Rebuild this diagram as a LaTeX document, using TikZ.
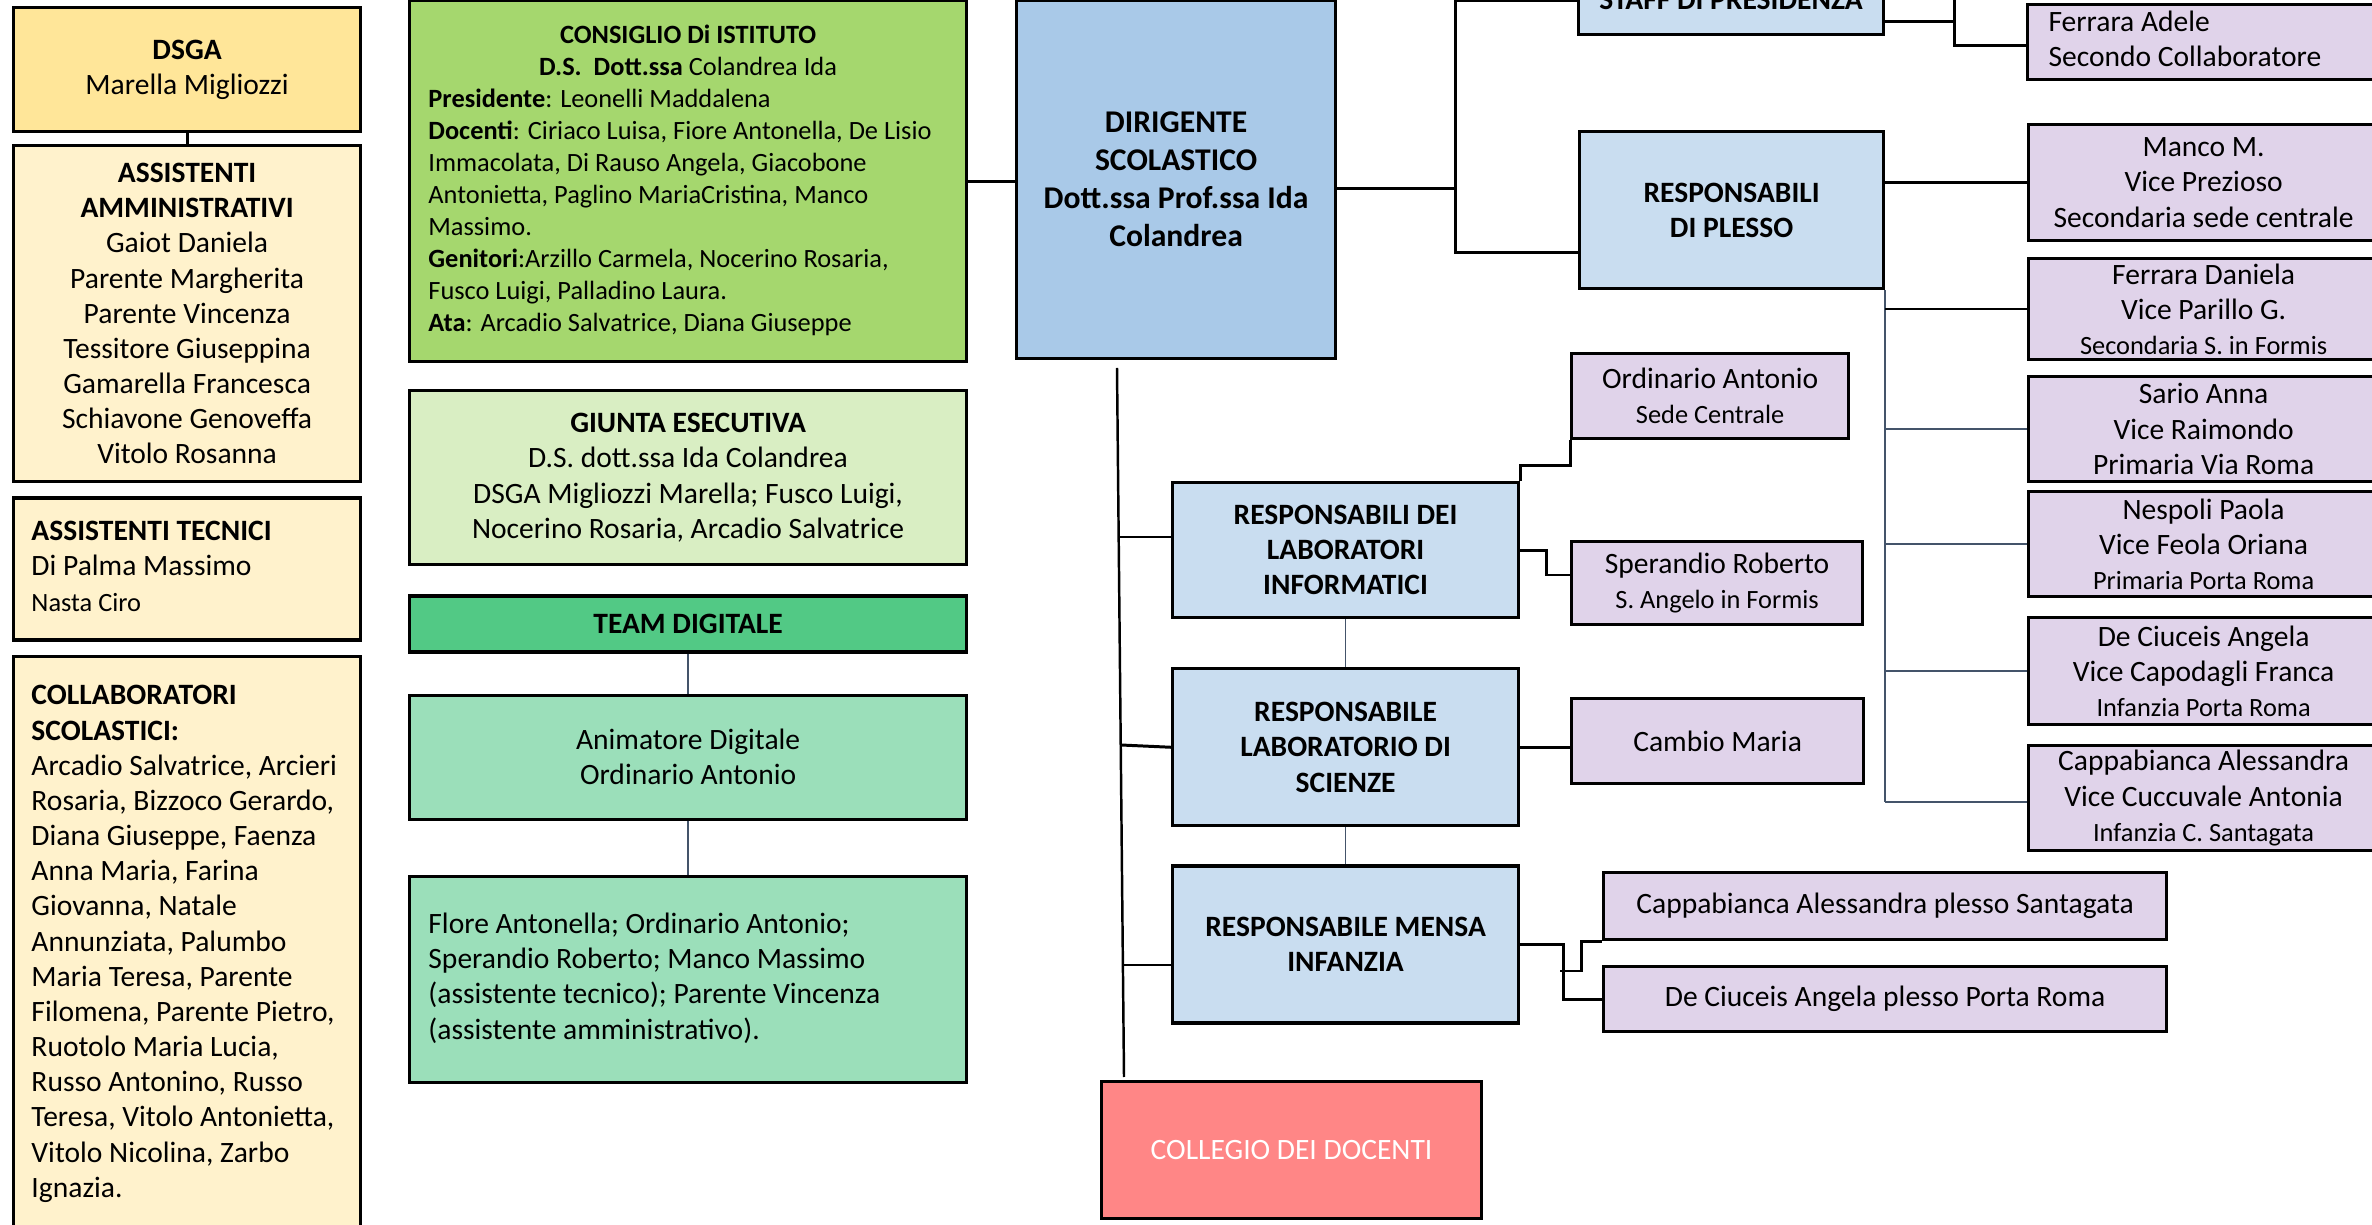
\documentclass[tikz,border=0pt]{standalone}
\usepackage{fontspec}
\setmainfont{Carlito}
\usetikzlibrary{positioning}

\definecolor{dsgagold}{HTML}{FFE699}
\definecolor{atacream}{HTML}{FFF2CC}
\definecolor{cdigreen}{HTML}{A5D76E}
\definecolor{giuntagreen}{HTML}{D9EEC3}
\definecolor{teamgreen}{HTML}{52C985}
\definecolor{mintgreen}{HTML}{9BDFBA}
\definecolor{dirblue}{HTML}{A9C9E8}
\definecolor{paleblue}{HTML}{C9DDF0}
\definecolor{lilac}{HTML}{E0D3EA}
\definecolor{salmon}{HTML}{FF8686}
\definecolor{slateline}{HTML}{44546A}

\newcommand{\piccolo}{\fontsize{7.5}{10}\selectfont}
% testo allineato a sinistra in una colonna larga #1
\newcommand{\colonna}[2]{\makebox[#1][l]{\begin{tabular}{@{}l@{}}#2\end{tabular}}}

\tikzset{
  org/.style={draw, line width=0.9pt, inner sep=0pt, align=center, anchor=north west},
  dims/.style 2 args={minimum width=#1*0.01cm, minimum height=#2*0.01cm},
  heading/.style={font=\fontsize{8.4}{10}\selectfont\bfseries},
  link/.style={line width=0.85pt},
  fine/.style={draw=slateline, line width=0.45pt},
}

\begin{document}
\begin{tikzpicture}[x=0.01cm, y=-0.01cm, font=\fontsize{8.4}{10}\selectfont]
\useasboundingbox (0,0) rectangle (2372,1225);
\clip (0,0) rectangle (2372,1225);

% personale ATA
\node[org, dims={347}{124}, fill=dsgagold] (dsga) at (12,6) {\textbf{DSGA}\\Marella Migliozzi};
\node[org, dims={347}{336}, fill=atacream, below=0.11cm of dsga] (amm) {\textbf{ASSISTENTI}\\\textbf{AMMINISTRATIVI}\\Gaiot Daniela\\Parente Margherita\\Parente Vincenza\\Tessitore Giuseppina\\Gamarella Francesca\\Schiavone Genoveffa\\Vitolo Rosanna};
\node[org, dims={347}{142}, fill=atacream, below=0.13cm of amm] (tec) {\colonna{3.11cm}{\textbf{ASSISTENTI TECNICI}\\Di Palma Massimo\\{\piccolo Nasta Ciro}}};
\node[org, dims={347}{576}, fill=atacream, below=0.13cm of tec] (coll) {\colonna{3.11cm}{\textbf{COLLABORATORI}\\\textbf{SCOLASTICI:}\\Arcadio Salvatrice, Arcieri\\Rosaria, Bizzoco Gerardo,\\Diana Giuseppe, Faenza\\Anna Maria, Farina\\Giovanna, Natale\\Annunziata, Palumbo\\Maria Teresa, Parente\\Filomena, Parente Pietro,\\Ruotolo Maria Lucia,\\Russo Antonino, Russo\\Teresa, Vitolo Antonietta,\\Vitolo Nicolina, Zarbo\\Ignazia.}};

% organi collegiali
\node[org, dims={557}{361}, fill=cdigreen, font=\fontsize{7.5}{9.1}\selectfont] (cdi) at (408,-1) {\colonna{5.19cm}{\makebox[5.19cm]{\textbf{CONSIGLIO Di ISTITUTO}}\\\makebox[5.19cm]{\textbf{D.S.\ \ Dott.ssa} Colandrea Ida}\\\textbf{Presidente}: Leonelli Maddalena\\\textbf{Docenti}: Ciriaco Luisa, Fiore Antonella, De Lisio\\Immacolata, Di Rauso Angela, Giacobone\\Antonietta, Paglino MariaCristina, Manco\\Massimo.\\\textbf{Genitori}:Arzillo Carmela, Nocerino Rosaria,\\Fusco Luigi, Palladino Laura.\\\textbf{Ata}: Arcadio Salvatrice, Diana Giuseppe}};
\node[org, dims={557}{174}, fill=giuntagreen, below=0.26cm of cdi] (giunta) {\textbf{GIUNTA ESECUTIVA}\\D.S. dott.ssa Ida Colandrea\\DSGA Migliozzi Marella; Fusco Luigi,\\Nocerino Rosaria, Arcadio Salvatrice};
\node[org, dims={557}{56}, fill=teamgreen, below=0.28cm of giunta] (team) {\textbf{TEAM DIGITALE}};
\node[org, dims={557}{124}, fill=mintgreen, below=0.40cm of team] (anim) {Animatore Digitale\\Ordinario Antonio};
\node[org, dims={557}{206}, fill=mintgreen, below=0.54cm of anim] (teamlist) {\colonna{5.19cm}{Flore Antonella; Ordinario Antonio;\\Sperandio Roberto; Manco Massimo\\(assistente tecnico); Parente Vincenza\\(assistente amministrativo).}};

% dirigente e responsabili
\node[org, dims={319}{358}, fill=dirblue, font=\fontsize{9}{10.8}\selectfont\bfseries] (ds) at (1015,-1) {DIRIGENTE\\SCOLASTICO\\Dott.ssa Prof.ssa Ida\\Colandrea};
\node[org, dims={346}{135}, fill=paleblue, heading] (labinf) at (1171,481) {RESPONSABILI DEI\\LABORATORI\\INFORMATICI};
\node[org, dims={346}{157}, fill=paleblue, heading, below=0.48cm of labinf] (labsci) {RESPONSABILE\\LABORATORIO DI\\SCIENZE};
\node[org, dims={346}{157}, fill=paleblue, heading, below=0.37cm of labsci] (mensa) {RESPONSABILE MENSA\\INFANZIA};
\node[org, dims={380}{137}, fill=salmon, text=white] (collegio) at (1100,1080) {COLLEGIO DEI DOCENTI};

\node[org, dims={277}{85}, fill=lilac] (ordinario) at (1570,352) {Ordinario Antonio\\{\piccolo Sede Centrale}};
\node[org, dims={291}{83}, fill=lilac] (sperandio) at (1570,540) {Sperandio Roberto\\{\piccolo S. Angelo in Formis}};
\node[org, dims={292}{85}, fill=lilac] (cambio) at (1570,697) {Cambio Maria};
\node[org, dims={563}{67}, fill=lilac] (mensaA) at (1602,871) {Cappabianca Alessandra plesso Santagata};
\node[org, dims={563}{65}, fill=lilac] (mensaB) at (1602,965) {De Ciuceis Angela plesso Porta Roma};

% staff e plessi
\node[org, dims={305}{69}, fill=paleblue, heading] (staff) at (1577,-36) {STAFF DI PRESIDENZA};
\node[org, dims={304}{157}, fill=paleblue, heading] (plesso) at (1578,130) {RESPONSABILI\\DI PLESSO};
\node[org, dims={350}{75}, fill=lilac] (adele) at (2026,3) {\colonna{3.08cm}{Ferrara Adele\\Secondo Collaboratore}};
\node[org, dims={350}{116}, fill=lilac] (manco) at (2027,123) {Manco M.\\Vice Prezioso\\Secondaria sede centrale};
\node[org, dims={350}{101}, fill=lilac] (daniela) at (2027,257) {Ferrara Daniela\\Vice Parillo G.\\{\piccolo Secondaria S. in Formis}};
\node[org, dims={350}{105}, fill=lilac] (sario) at (2027,375) {Sario Anna\\Vice Raimondo\\Primaria Via Roma};
\node[org, dims={350}{105}, fill=lilac] (nespoli) at (2027,490) {Nespoli Paola\\Vice Feola Oriana\\{\piccolo Primaria Porta Roma}};
\node[org, dims={350}{107}, fill=lilac] (ciuceis) at (2027,616) {De Ciuceis Angela\\Vice Capodagli Franca\\{\piccolo Infanzia Porta Roma}};
\node[org, dims={350}{105}, fill=lilac] (cappa) at (2027,744) {Cappabianca Alessandra\\Vice Cuccuvale Antonia\\{\piccolo Infanzia C. Santagata}};

% punti di snodo
\coordinate (hub) at (1455,189);
\coordinate (spinetop) at (1117,368);
\coordinate (spinebot) at (1124,1077);
\coordinate (topjoin) at (1954,-10);

% collegamenti
\draw[link] (dsga) -- (amm);
\draw[link] (cdi.east) -- (cdi.east -| ds.west);
\draw[fine] (team) -- (anim);
\draw[fine] (anim) -- (teamlist);
\draw[link] (ds.east |- hub) -- (hub);
\draw[link] (staff.west |- 0,1) -| (hub) |- (plesso.west |- 0,253);
\draw[link] (staff.east |- 0,22) -- (topjoin |- 0,22);
\draw[link] (topjoin) |- (adele.west |- 0,46);
\draw[link] (plesso.east |- manco.west) -- (manco.west);
\draw[fine] (plesso.south east) -- (plesso.south east |- 0,802);
\draw[link, line width=0.6pt] (plesso.east |- daniela.west) -- (daniela.west);
\draw[fine] (plesso.east |- sario.west) -- (sario.west);
\draw[fine] (plesso.east |- nespoli.west) -- (nespoli.west);
\draw[fine] (plesso.east |- ciuceis.west) -- (ciuceis.west);
\draw[fine] (plesso.east |- 0,802) -- (cappa.west |- 0,802);
\draw[line width=0.7pt] (spinetop) -- (spinebot);
\draw[link] (1119,537) -- (labinf.west |- 0,537);
\draw[link] (1121,745) -- (labsci.west);
\draw[link] (1123,965) -- (mensa.west |- 0,965);
\draw[fine] (labinf) -- (labsci);
\draw[fine] (labsci) -- (mensa);
\draw[link] (labinf.north east) -- ++(0,-15) -| (ordinario.south west);
\draw[link] (labinf.east) -- ++(26,0) |- (sperandio.west |- 0,575);
\draw[link] (labsci.east) -- (labsci.east -| cambio.west);
\draw[link] (mensa.east) -- ++(43,0) |- (mensaB.west);
\draw[link] (1560,971) -- (1581,971) |- (mensaA.south west);
\end{tikzpicture}
\end{document}
